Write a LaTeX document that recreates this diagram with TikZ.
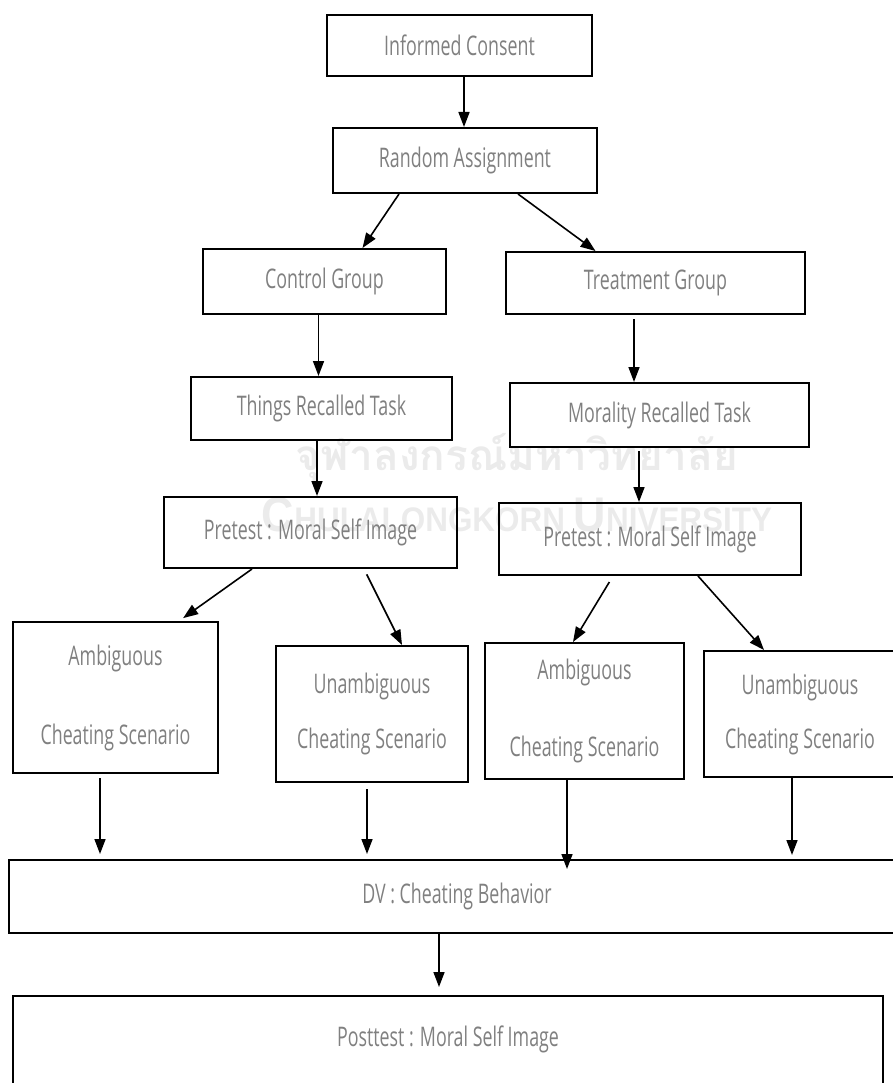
\documentclass[tikz,border=0pt]{standalone}
\usepackage{fontspec}
\setmainfont[FakeStretch=0.66]{Open Sans}
\newfontfamily\thaiwm[Script=Thai]{Loma}
\newfontfamily\wmsans{Liberation Sans}
\usepackage{graphicx}
\usetikzlibrary{arrows.meta}

\begin{document}
\begin{tikzpicture}[x=1pt, y=-1pt,
    stage/.style={rectangle, draw, line width=2pt, inner sep=0pt, text=black!50, font=\fontsize{27}{31}\selectfont, align=center},
    arrow/.style={->, line width=1.6pt, >={Triangle[length=15pt,width=11pt]}},
    watermark/.style={text=black!8, inner sep=0pt}]

    \useasboundingbox (0,0) rectangle (893,1083);
    \clip (0,0) rectangle (893,1083);

    % faint watermark
    \node[watermark] (wmthai) at (517,457) {\resizebox{442pt}{!}{\thaiwm\bfseries จุฬาลงกรณ์มหาวิทยาลัย}};
    \node[watermark] (wmname) at (517,515) {\resizebox{510pt}{34pt}{\wmsans\bfseries\fontsize{20}{20}\selectfont C\fontsize{14}{14}\selectfont HULALONGKORN \fontsize{20}{20}\selectfont U\fontsize{14}{14}\selectfont NIVERSITY}};

    \node[stage, minimum width=265pt, minimum height=61pt] (consent) at (459.5,45.5) {Informed Consent};
    \node[stage, minimum width=264pt, minimum height=65pt] (assign) at (465,160.5) {Random Assignment};
    \node[stage, minimum width=243pt, minimum height=65pt] (control) at (324.5,281.5) {Control Group};
    \node[stage, minimum width=299pt, minimum height=62pt] (treat) at (655.5,283) {Treatment Group};
    \node[stage, minimum width=261pt, minimum height=63pt] (things) at (321.5,408.5) {Things Recalled Task};
    \node[stage, minimum width=299pt, minimum height=64pt] (morality) at (659.5,415) {Morality Recalled Task};
    \node[stage, minimum width=293pt, minimum height=71pt] (preL) at (310.5,532.5) {Pretest : Moral Self Image};
    \node[stage, minimum width=302pt, minimum height=72pt] (preR) at (650,539) {Pretest : Moral Self Image};
    \node[stage, minimum width=205pt, minimum height=151pt] (ambL) at (115.5,697.5) {Ambiguous\\[48pt]Cheating Scenario};
    \node[stage, minimum width=192pt, minimum height=136pt] (unambL) at (372,714) {Unambiguous\\[24pt]Cheating Scenario};
    \node[stage, minimum width=199pt, minimum height=136pt] (ambR) at (584.5,711) {Ambiguous\\[46pt]Cheating Scenario};
    \node[stage, minimum width=192pt, minimum height=126pt] (unambR) at (800,714) {Unambiguous\\[23pt]Cheating Scenario};
    \node[stage, minimum width=896pt, minimum height=73pt] (dv) at (457,896.5) {DV : Cheating Behavior};
    \node[stage, anchor=north, minimum width=870pt, text height=50pt, text depth=80pt] (post) at (448,995) {Posttest : Moral Self Image};

    \draw[arrow] ([xshift=4.5pt]consent.south) -- ([xshift=-1pt]assign.north);
    \draw[arrow] ([xshift=-66pt]assign.south) -- ([xshift=38pt]control.north);
    \draw[arrow] ([xshift=53pt]assign.south) -- ([xshift=-60pt]treat.north);
    \draw[arrow] ([xshift=-3pt]things.north |- control.south) -- ([xshift=-3pt]things.north);
    \draw[arrow, shorten <=4pt] ([xshift=-25.5pt]morality.north |- treat.south) -- ([xshift=-25.5pt]morality.north);
    \draw[arrow] ([xshift=-4.5pt]things.south) -- ([xshift=-4.5pt]things.south |- preL.north);
    \draw[arrow, shorten <=3pt] ([xshift=-11pt]preR.north |- morality.south) -- ([xshift=-11pt]preR.north);
    \draw[arrow, shorten >=5pt] ([xshift=-58.5pt]preL.south) -- ([xshift=63.5pt]ambL.north);
    \draw[arrow, shorten <=6pt] ([xshift=53.5pt]preL.south) -- ([xshift=30pt]unambL.north);
    \draw[arrow, shorten <=7pt] ([xshift=-37pt]preR.south) -- ([xshift=-11.5pt]ambR.north);
    \draw[arrow] ([xshift=48pt]preR.south) -- ([xshift=-36pt]unambR.north);
    \draw[arrow, shorten <=4pt, shorten >=5pt] ([xshift=-15.5pt]ambL.south) -- ([xshift=-15.5pt]ambL.south |- dv.north);
    \draw[arrow, shorten <=6pt, shorten >=5pt] ([xshift=-5pt]unambL.south) -- ([xshift=-5pt]unambL.south |- dv.north);
    \draw[arrow, shorten >=-10pt] ([xshift=-17.5pt]ambR.south) -- ([xshift=-17.5pt]ambR.south |- dv.north);
    \draw[arrow, shorten >=4pt] ([xshift=-8pt]unambR.south) -- ([xshift=-8pt]unambR.south |- dv.north);
    \draw[arrow, shorten >=8pt] ([xshift=-18pt]dv.south) -- ([xshift=-18pt]dv.south |- post.north);
\end{tikzpicture}
\end{document}
